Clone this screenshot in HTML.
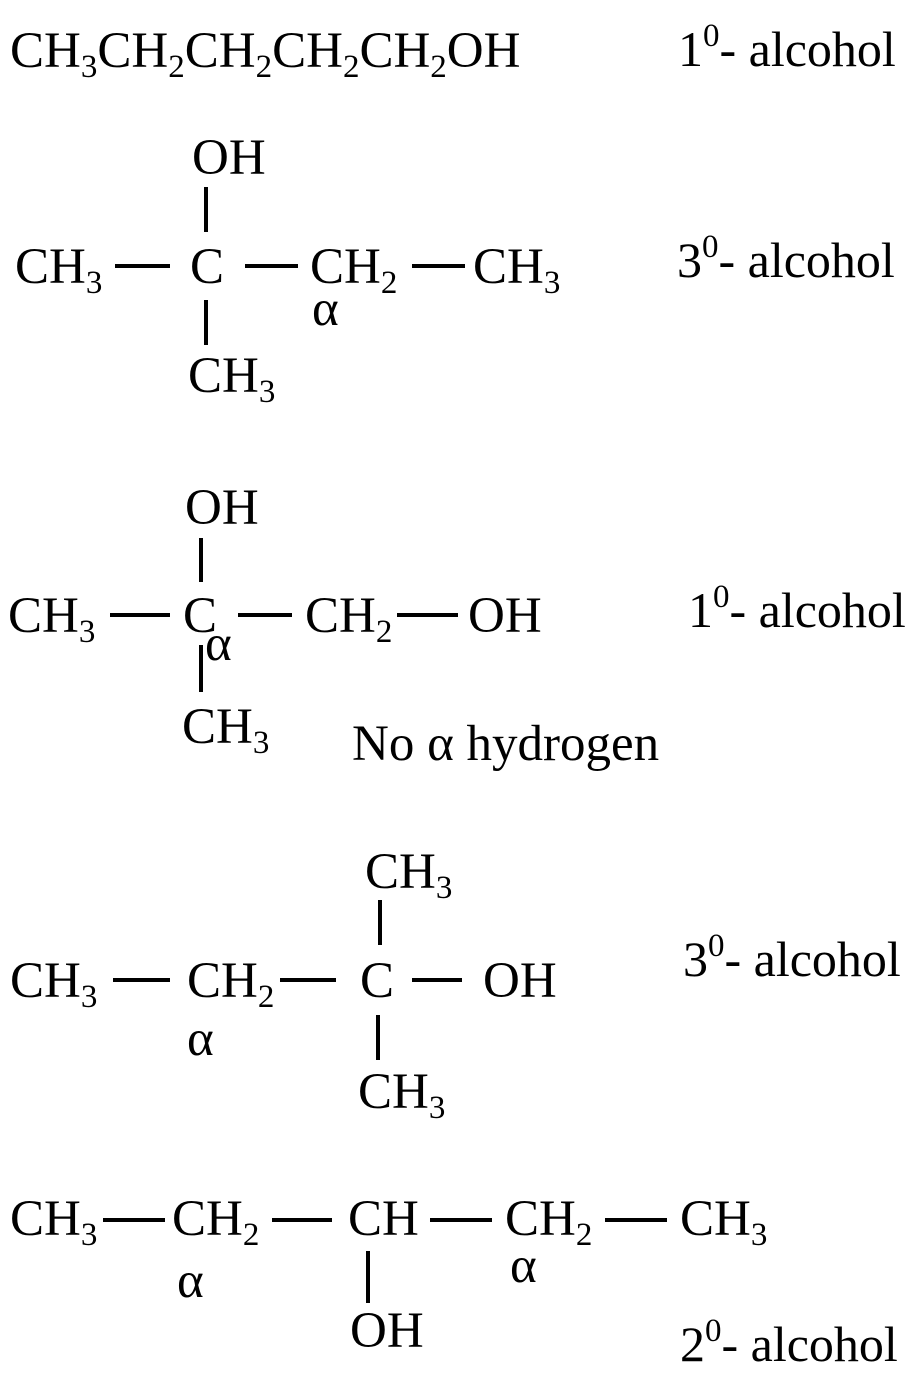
<!DOCTYPE html>
<html><head><meta charset="utf-8"><style>
html,body{margin:0;padding:0;background:#fff;}
svg{display:block}
text{font-family:"Liberation Serif",serif;font-size:51px;fill:#000}
.s{font-size:33px}
.a{font-size:50px}
line{stroke:#000;stroke-width:4}
</style></head><body>
<svg width="914" height="1382" viewBox="0 0 914 1382" xmlns="http://www.w3.org/2000/svg">
<!-- Row 1 -->
<text x="10" y="67">CH<tspan class="s" dy="10">3</tspan><tspan dy="-10">CH</tspan><tspan class="s" dy="10">2</tspan><tspan dy="-10">CH</tspan><tspan class="s" dy="10">2</tspan><tspan dy="-10">CH</tspan><tspan class="s" dy="10">2</tspan><tspan dy="-10">CH</tspan><tspan class="s" dy="10">2</tspan><tspan dy="-10">OH</tspan></text>
<text class="a" x="678" y="66">1<tspan class="s" dy="-20">0</tspan><tspan dy="20">- alcohol</tspan></text>

<!-- Row 2 -->
<text x="192" y="174">OH</text>
<line x1="206" y1="187" x2="206" y2="232"/>
<text x="15" y="283">CH<tspan class="s" dy="10">3</tspan></text>
<line x1="115" y1="266" x2="170" y2="266"/>
<text x="190" y="283">C</text>
<line x1="245" y1="266" x2="298" y2="266"/>
<text x="310" y="283">CH<tspan class="s" dy="10">2</tspan></text>
<line x1="412" y1="266" x2="465" y2="266"/>
<text x="473" y="283">CH<tspan class="s" dy="10">3</tspan></text>
<line x1="206" y1="300" x2="206" y2="345"/>
<text x="312" y="325">α</text>
<text x="188" y="392">CH<tspan class="s" dy="10">3</tspan></text>
<text class="a" x="677" y="277">3<tspan class="s" dy="-20">0</tspan><tspan dy="20">- alcohol</tspan></text>

<!-- Row 3 -->
<text x="185" y="524">OH</text>
<line x1="201" y1="538" x2="201" y2="582"/>
<text x="8" y="632">CH<tspan class="s" dy="10">3</tspan></text>
<line x1="110" y1="615" x2="170" y2="615"/>
<text x="183" y="632">C</text>
<line x1="238" y1="615" x2="292" y2="615"/>
<text x="305" y="632">CH<tspan class="s" dy="10">2</tspan></text>
<line x1="397" y1="615" x2="458" y2="615"/>
<text x="468" y="632">OH</text>
<text x="205" y="660">α</text>
<line x1="201" y1="645" x2="201" y2="692"/>
<text x="182" y="743">CH<tspan class="s" dy="10">3</tspan></text>
<text x="352" y="760">No α hydrogen</text>
<text class="a" x="688" y="627">1<tspan class="s" dy="-20">0</tspan><tspan dy="20">- alcohol</tspan></text>

<!-- Row 4 -->
<text x="365" y="888">CH<tspan class="s" dy="10">3</tspan></text>
<line x1="380" y1="900" x2="380" y2="945"/>
<text x="10" y="997">CH<tspan class="s" dy="10">3</tspan></text>
<line x1="113" y1="980" x2="170" y2="980"/>
<text x="187" y="997">CH<tspan class="s" dy="10">2</tspan></text>
<line x1="280" y1="980" x2="336" y2="980"/>
<text x="360" y="997">C</text>
<line x1="412" y1="980" x2="462" y2="980"/>
<text x="483" y="997">OH</text>
<text x="187" y="1055">α</text>
<line x1="378" y1="1015" x2="378" y2="1060"/>
<text x="358" y="1108">CH<tspan class="s" dy="10">3</tspan></text>
<text class="a" x="683" y="976">3<tspan class="s" dy="-20">0</tspan><tspan dy="20">- alcohol</tspan></text>

<!-- Row 5 -->
<text x="10" y="1235">CH<tspan class="s" dy="10">3</tspan></text>
<line x1="103" y1="1220" x2="165" y2="1220"/>
<text x="172" y="1235">CH<tspan class="s" dy="10">2</tspan></text>
<line x1="272" y1="1220" x2="332" y2="1220"/>
<text x="348" y="1235">CH</text>
<line x1="430" y1="1220" x2="492" y2="1220"/>
<text x="505" y="1235">CH<tspan class="s" dy="10">2</tspan></text>
<line x1="605" y1="1220" x2="667" y2="1220"/>
<text x="680" y="1235">CH<tspan class="s" dy="10">3</tspan></text>
<text x="177" y="1297">α</text>
<text x="510" y="1282">α</text>
<line x1="368" y1="1251" x2="368" y2="1303"/>
<text x="350" y="1347">OH</text>
<text class="a" x="680" y="1361">2<tspan class="s" dy="-20">0</tspan><tspan dy="20">- alcohol</tspan></text>
</svg>
</body></html>
